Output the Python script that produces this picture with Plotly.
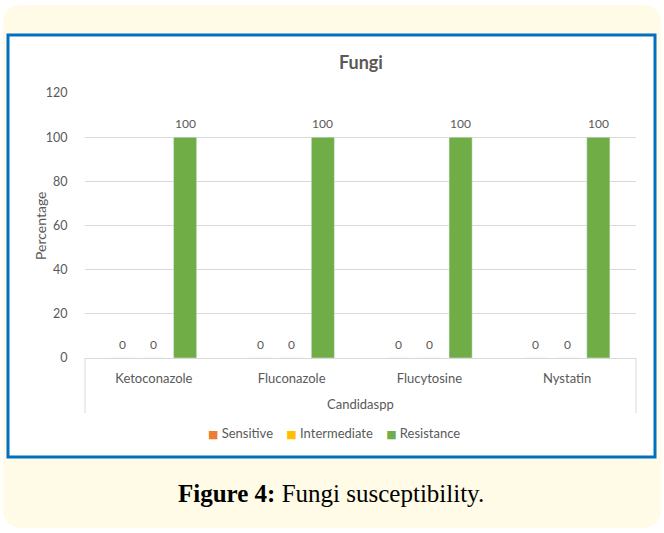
import plotly.graph_objects as go

# Susceptibility of Candida spp. to antifungal agents (%)
drugs = ["Ketoconazole", "Fluconazole", "Flucytosine", "Nystatin"]
sensitive = [0, 0, 0, 0]
intermediate = [0, 0, 0, 0]
resistance = [100, 100, 100, 100]
y_ticks = [0, 20, 40, 60, 80, 100, 120]

W, H = 664, 533
L, R, T, B = 85, 28, 93, 175
PW, PH = W - L - R, H - T - B
BARGAP, GROUPGAP = 0.32, 0.26

def px(x):
    return (x - L) / PW

def py(y):
    return (H - B - y) / PH

grey = "#595959"
font = "Lato"

series = [("Sensitive", sensitive, "#ED7D31"),
          ("Intermediate", intermediate, "#FFC000"),
          ("Resistance", resistance, "#70AD47")]

fig = go.Figure()
for name, vals, col in series:
    fig.add_trace(go.Bar(x=drugs, y=vals, name=name, marker_color=col,
                         showlegend=False))

# value labels sit a little above each bar, offset to its slot in the group
slot = PW / len(drugs) * (1 - BARGAP) / len(series)
annotations = []
for i, (name, vals, col) in enumerate(series):
    for d, v in zip(drugs, vals):
        annotations.append(dict(
            x=d, y=v, text=str(v), showarrow=False, xref="x", yref="y",
            xshift=(i - 1) * slot, yshift=14, yanchor="middle",
            font=dict(size=12, color=grey, family=font)))

# rounded cream panel
x0, x1, y0, y1, r = px(3), px(661), py(528), py(5), 20
rx, ry = r / PW, r / PH
panel = (f"M {x0+rx},{y0} L {x1-rx},{y0} Q {x1},{y0} {x1},{y0+ry} "
         f"L {x1},{y1-ry} Q {x1},{y1} {x1-rx},{y1} L {x0+rx},{y1} "
         f"Q {x0},{y1} {x0},{y1-ry} L {x0},{y0+ry} Q {x0},{y0} {x0+rx},{y0} Z")

shapes = [
    dict(type="path", path=panel, xref="paper", yref="paper",
         fillcolor="#FFFBE6", line=dict(width=0), layer="below"),
    dict(type="rect", xref="paper", yref="paper", x0=px(8), x1=px(655),
         y0=py(457), y1=py(35), fillcolor="white",
         line=dict(color="#0070C0", width=3), layer="below"),
    dict(type="line", xref="paper", yref="paper", x0=0, x1=0,
         y0=0, y1=py(413), line=dict(color="#D9D9D9", width=1)),
    dict(type="line", xref="paper", yref="paper", x0=1, x1=1,
         y0=0, y1=py(413), line=dict(color="#D9D9D9", width=1)),
]

legend_text = "&nbsp;&nbsp;&nbsp;&nbsp;".join(
    f"<span style='color:{col};font-family:DejaVu Sans;font-size:11px'>■</span>&nbsp;{name}"
    for name, _, col in series)

annotations += [
    dict(text="<b>Fungi</b>", x=0.5, y=py(62), xref="paper", yref="paper",
         showarrow=False, font=dict(size=18, color=grey, family=font),
         xanchor="center", yanchor="middle"),
    dict(text="Percentage", x=px(40), y=py(226), xref="paper", yref="paper",
         showarrow=False, textangle=-90, font=dict(size=14, color=grey, family=font),
         xanchor="center", yanchor="middle"),
    dict(text="Candidaspp", x=0.5, y=py(404), xref="paper", yref="paper",
         showarrow=False, font=dict(size=13, color=grey, family=font),
         xanchor="center", yanchor="middle"),
    dict(text=legend_text, x=px(334), y=py(433), xref="paper", yref="paper",
         showarrow=False, font=dict(size=13, color=grey, family=font),
         xanchor="center", yanchor="middle"),
    dict(text="<b>Figure 4:</b> Fungi susceptibility.", x=px(331), y=py(494),
         xref="paper", yref="paper", showarrow=False,
         font=dict(size=25, color="black", family="Liberation Serif"),
         xanchor="center", yanchor="middle"),
]

fig.update_layout(
    width=W, height=H,
    margin=dict(l=L, r=R, t=T, b=B),
    paper_bgcolor="white", plot_bgcolor="rgba(0,0,0,0)",
    barmode="group", bargap=BARGAP, bargroupgap=GROUPGAP,
    font=dict(family=font, color=grey, size=12),
    shapes=shapes, annotations=annotations,
    xaxis=dict(showgrid=False, showline=True, linecolor="#D9D9D9",
               ticks="outside", ticklen=8, tickcolor="rgba(0,0,0,0)",
               tickfont=dict(size=13, color=grey, family=font)),
    yaxis=dict(range=[0, 120], tickvals=y_ticks, showgrid=True,
               gridcolor="#D9D9D9", zeroline=False, showline=False,
               ticks="outside", ticklen=14, tickcolor="rgba(0,0,0,0)",
               tickfont=dict(size=12.5, color=grey, family=font)),
)

fig.write_html("out.html")
